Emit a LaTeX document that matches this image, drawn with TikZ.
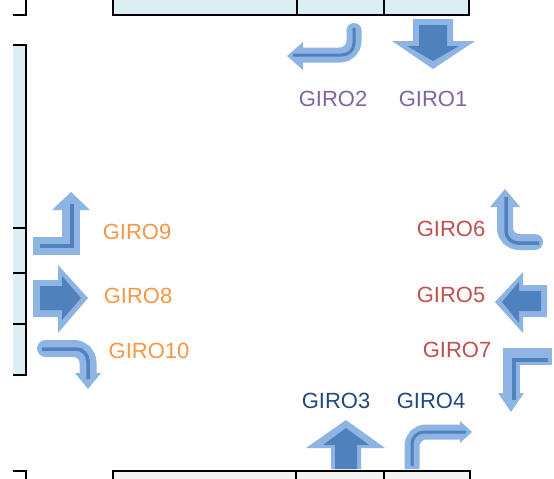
\documentclass[tikz,border=0pt]{standalone}
\usepackage{fontspec}
\setmainfont{Liberation Sans}
\definecolor{lite}{HTML}{8DB4E2}
\definecolor{deep}{HTML}{4F81BD}
\definecolor{road}{HTML}{DAEEF3}
\definecolor{roadg}{HTML}{F2F2F2}
\definecolor{cpur}{HTML}{8064A2}
\definecolor{corg}{HTML}{F79646}
\definecolor{cred}{HTML}{C0504D}
\definecolor{cblu}{HTML}{1F497D}
\begin{document}
\begin{tikzpicture}[x=1pt,y=-1pt,
  edge/.style={line width=2.4pt, draw=black},
  lbl/.style={font=\fontsize{22}{22}\selectfont, inner sep=0pt, anchor=center},
  band/.style={draw=lite, line width=16pt},
  core/.style={draw=deep, line width=3.5pt},
  headfill/.style={fill=lite},
  blockout/.style={fill=lite},
  blockin/.style={fill=deep},
]
\useasboundingbox (0,0) rectangle (554,479);

% roads
\fill[road] (113,0) rectangle (469,15);
\draw[edge] (113,0) -- (113,15) -- (469,15) -- (469,0);
\draw[edge] (297,0) -- (297,15);
\draw[edge] (384,0) -- (384,15);
\draw[edge] (13,15) -- (26,15) -- (26,0);

\fill[road] (13,45) rectangle (26,375);
\draw[edge] (13,45) -- (26,45) -- (26,375) -- (13,375);
\draw[edge] (13,228) -- (26,228);
\draw[edge] (13,273) -- (26,273);
\draw[edge] (13,324) -- (26,324);

\fill[roadg] (113,471) rectangle (470,479);
\draw[edge] (113,479) -- (113,471) -- (470,471) -- (470,479);
\draw[edge] (296,471) -- (296,479);
\draw[edge] (384,471) -- (384,479);
\draw[edge] (13,471) -- (26,471) -- (26,479);

% GIRO1 block arrow (down)
\fill[blockout] (413,19) -- (453,19) -- (453,41) -- (475,41) -- (433,69) -- (392,41) -- (413,41) -- cycle;
\fill[blockin] (419,25) -- (447,25) -- (447,46) -- (459,46) -- (433,61) -- (407,46) -- (419,46) -- cycle;

% GIRO3 block arrow (up)
\fill[blockout] (331,469) -- (361,469) -- (361,448) -- (385,448) -- (346,420) -- (306,448) -- (331,448) -- cycle;
\fill[blockin] (335,469) -- (357,469) -- (357,445) -- (369,445) -- (346,428) -- (323,445) -- (335,445) -- cycle;

% GIRO8 block arrow (right)
\fill[blockout] (33,280) -- (58,280) -- (58,265) -- (88,298) -- (58,333) -- (58,317) -- (33,317) -- cycle;
\fill[blockin] (40,286) -- (62,286) -- (62,276) -- (81,298) -- (62,320) -- (62,310) -- (40,310) -- cycle;

% GIRO5 block arrow (left)
\fill[blockout] (547,285) -- (523,285) -- (523,272) -- (495,302) -- (523,333) -- (523,317) -- (547,317) -- cycle;
\fill[blockin] (541,291) -- (519,291) -- (519,282) -- (502,302) -- (519,323) -- (519,311) -- (541,311) -- cycle;

% GIRO9 bent arrow
\draw[band, line width=18pt] (33,245.5) -- (71,245.5) -- (71,210);
\fill[headfill] (52,210) -- (90,210) -- (71,192) -- cycle;
\draw[core] (40,246) -- (72,246) -- (72,204);

% GIRO10 bent arrow
\fill[lite] (45.5,348.5) circle (8.5pt);
\draw[band, line width=17pt, rounded corners=14pt] (45.5,348.5) -- (88,348.5) -- (88,373);
\fill[headfill] (75,373) -- (101,373) -- (88,389) -- cycle;
\draw[core, rounded corners=12pt] (42,349) -- (88,349) -- (88,379);

% GIRO2 bent arrow
\fill[lite] (354,30.5) circle (7.5pt);
\draw[band, line width=15pt, rounded corners=14pt] (354,30.5) -- (354,55) -- (303,55);
\fill[headfill] (303,42) -- (303,70) -- (287,56) -- cycle;
\draw[core, line width=3pt, rounded corners=12pt] (354,28) -- (354,55) -- (293,55);

% GIRO4 bent arrow
\draw[band, line width=15pt, rounded corners=14pt] (412,469) -- (412,432) -- (460,432);
\fill[headfill] (460,421) -- (460,443) -- (472,432) -- cycle;
\draw[core, line width=3pt, rounded corners=12pt] (412,466) -- (412,432) -- (466,432);

% GIRO6 bent arrow
\fill[lite] (535,242) circle (8pt);
\draw[band, line width=16pt, rounded corners=14pt] (535,242) -- (505,242) -- (505,207);
\fill[headfill] (490,207) -- (520,207) -- (505,189) -- cycle;
\draw[core, rounded corners=12pt] (539,243) -- (506,243) -- (506,197);

% GIRO7 bent arrow
\draw[band, line width=17pt] (552,356) -- (511,356) -- (511,393);
\fill[headfill] (498,393) -- (524,393) -- (511,412) -- cycle;
\draw[core] (548,360) -- (514,360) -- (514,400);

% labels
\node[lbl, text=cpur] (g2) at (333,99) {GIRO2};
\node[lbl, text=cpur] (g1) at (433,99) {GIRO1};
\node[lbl, text=corg] (g9) at (137,232) {GIRO9};
\node[lbl, text=corg] (g8) at (138,296) {GIRO8};
\node[lbl, text=corg] (g10) at (149,351) {GIRO10};
\node[lbl, text=cred] (g6) at (451,229) {GIRO6};
\node[lbl, text=cred] (g5) at (451,295) {GIRO5};
\node[lbl, text=cred] (g7) at (457,350) {GIRO7};
\node[lbl, text=cblu] (g3) at (336,401) {GIRO3};
\node[lbl, text=cblu] (g4) at (431,401) {GIRO4};
\end{tikzpicture}
\end{document}
